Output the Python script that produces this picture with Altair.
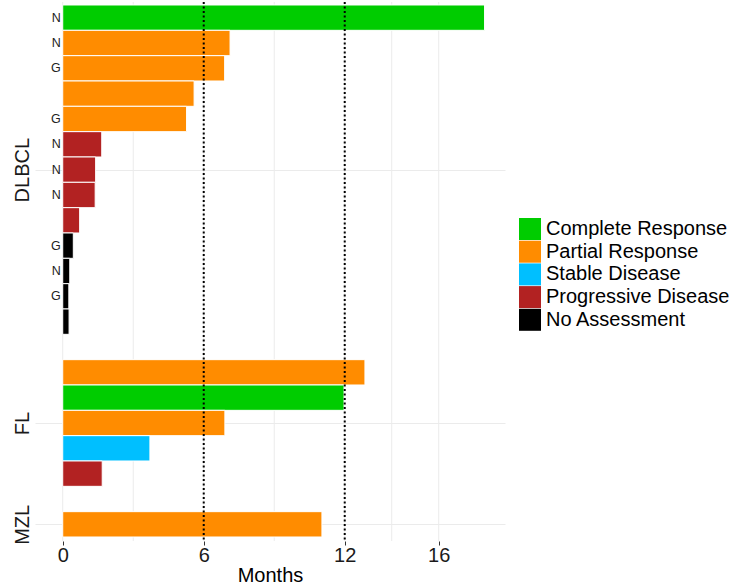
import altair as alt
import pandas as pd

# Per-patient months on treatment, best response and annotation, by histology
dlbcl_months = [17.95, 7.12, 6.89, 5.59, 5.27, 1.66, 1.40, 1.38, 0.72, 0.45, 0.30, 0.26, 0.27]
dlbcl_response = [
    "Complete Response", "Partial Response", "Partial Response", "Partial Response",
    "Partial Response", "Progressive Disease", "Progressive Disease", "Progressive Disease",
    "Progressive Disease", "No Assessment", "No Assessment", "No Assessment", "No Assessment",
]
dlbcl_marker = ["N", "N", "G", "", "G", "N", "N", "N", "", "G", "N", "G", ""]

fl_months = [12.86, 11.97, 6.90, 3.71, 1.68]
fl_response = ["Partial Response", "Complete Response", "Partial Response",
               "Stable Disease", "Progressive Disease"]
fl_marker = ["", "", "", "", ""]

mzl_months = [11.03]
mzl_response = ["Partial Response"]
mzl_marker = [""]

groups = ["DLBCL", "FL", "MZL"]
response_levels = ["Complete Response", "Partial Response", "Stable Disease",
                   "Progressive Disease", "No Assessment"]
response_colors = ["#00CC00", "#FF8C00", "#00BFFF", "#B22222", "#000000"]

x_breaks = [0, 6, 12, 16]
x_grid = [0, 3, 6, 9, 12, 14, 16]
milestones = [6, 12]

# Lay patients out one per row, with an empty row between histologies
records, centers = [], []
row = 0
for name, months, resp, mark in [
    ("DLBCL", dlbcl_months, dlbcl_response, dlbcl_marker),
    ("FL", fl_months, fl_response, fl_marker),
    ("MZL", mzl_months, mzl_response, mzl_marker),
]:
    first = row
    for m, r, k in zip(months, resp, mark):
        records.append({"group": name, "row": row, "lo": row - 0.5, "hi": row + 0.5,
                        "start": 0, "months": m, "response": r, "marker": k})
        row += 1
    centers.append((first + row - 1) / 2)
    row += 1
last_row = row - 2

df = pd.DataFrame(records)
grid_df = pd.DataFrame({"x": x_grid})
mile_df = pd.DataFrame({"x": milestones})

W, H = 470, 539
FONT = "Liberation Sans"

x_scale = alt.Scale(domain=[-1.18, 18.82], nice=False, zero=False)
y_scale = alt.Scale(domain=[-0.618, last_row + 0.658], reverse=True, nice=False, zero=False)

label_expr = " : ".join(
    f"datum.value == {c} ? '{g}'" for c, g in zip(centers[:-1], groups[:-1])
) + f" : '{groups[-1]}'"

vgrid = alt.Chart(grid_df).mark_rule(color="#ebebeb", strokeWidth=1).encode(
    x=alt.X("x:Q", scale=x_scale),
    y=alt.value(0),
    y2=alt.value(H),
)

bars = alt.Chart(df).mark_rect(stroke="white", strokeWidth=1).encode(
    x=alt.X(
        "start:Q",
        scale=x_scale,
        axis=alt.Axis(
            values=x_breaks, title="Months", grid=False, domain=False,
            ticks=True, tickSize=4, tickColor="#333333", tickWidth=1,
            labelFontSize=20, labelColor="#1a1a1a", labelPadding=0,
            labelBaseline="top", labelFont=FONT,
            titleFontSize=20, titleColor="#000000", titleFont=FONT,
            titleFontWeight="normal", titleBaseline="alphabetic", titleY=40,
        ),
    ),
    x2="months:Q",
    y=alt.Y(
        "lo:Q",
        scale=y_scale,
        axis=alt.Axis(
            values=centers, labelExpr=label_expr, title=None,
            grid=True, gridColor="#ebebeb", gridWidth=1,
            ticks=False, domain=False, labelAngle=-90,
            labelAlign="center", labelBaseline="alphabetic", labelPadding=7,
            labelFontSize=20, labelColor="#1a1a1a", labelFont=FONT,
        ),
    ),
    y2="hi:Q",
    color=alt.Color(
        "response:N",
        scale=alt.Scale(domain=response_levels, range=response_colors),
        legend=alt.Legend(
            title=None, orient="none", legendX=484, legendY=216,
            symbolType="square", symbolSize=484, symbolStrokeWidth=0,
            symbolOpacity=1, labelFontSize=20, labelFont=FONT,
            labelColor="#000000", labelOffset=5, rowPadding=0.7,
            padding=0, labelLimit=300,
        ),
    ),
)

markers = alt.Chart(df).mark_text(
    align="right", baseline="middle", dx=-2, fontSize=12.5, font=FONT, color="#222222"
).encode(
    x=alt.X("start:Q", scale=x_scale),
    y=alt.Y("row:Q", scale=y_scale),
    text="marker:N",
)

lines = alt.Chart(mile_df).mark_rule(
    color="black", strokeWidth=2, strokeDash=[2, 2.5]
).encode(
    x=alt.X("x:Q", scale=x_scale),
    y=alt.value(0),
    y2=alt.value(H),
)

chart = (
    alt.layer(vgrid, bars, markers, lines)
    .properties(
        width=W,
        height=H,
        autosize=alt.AutoSizeParams(type="none"),
        padding={"left": 35, "top": 2, "right": 738 - 35 - W, "bottom": 586 - 2 - H},
        background="white",
    )
    .configure(font=FONT)
    .configure_view(stroke=None, strokeWidth=0)
)

chart.save("out.html", embed_options={"renderer": "svg", "actions": False})
